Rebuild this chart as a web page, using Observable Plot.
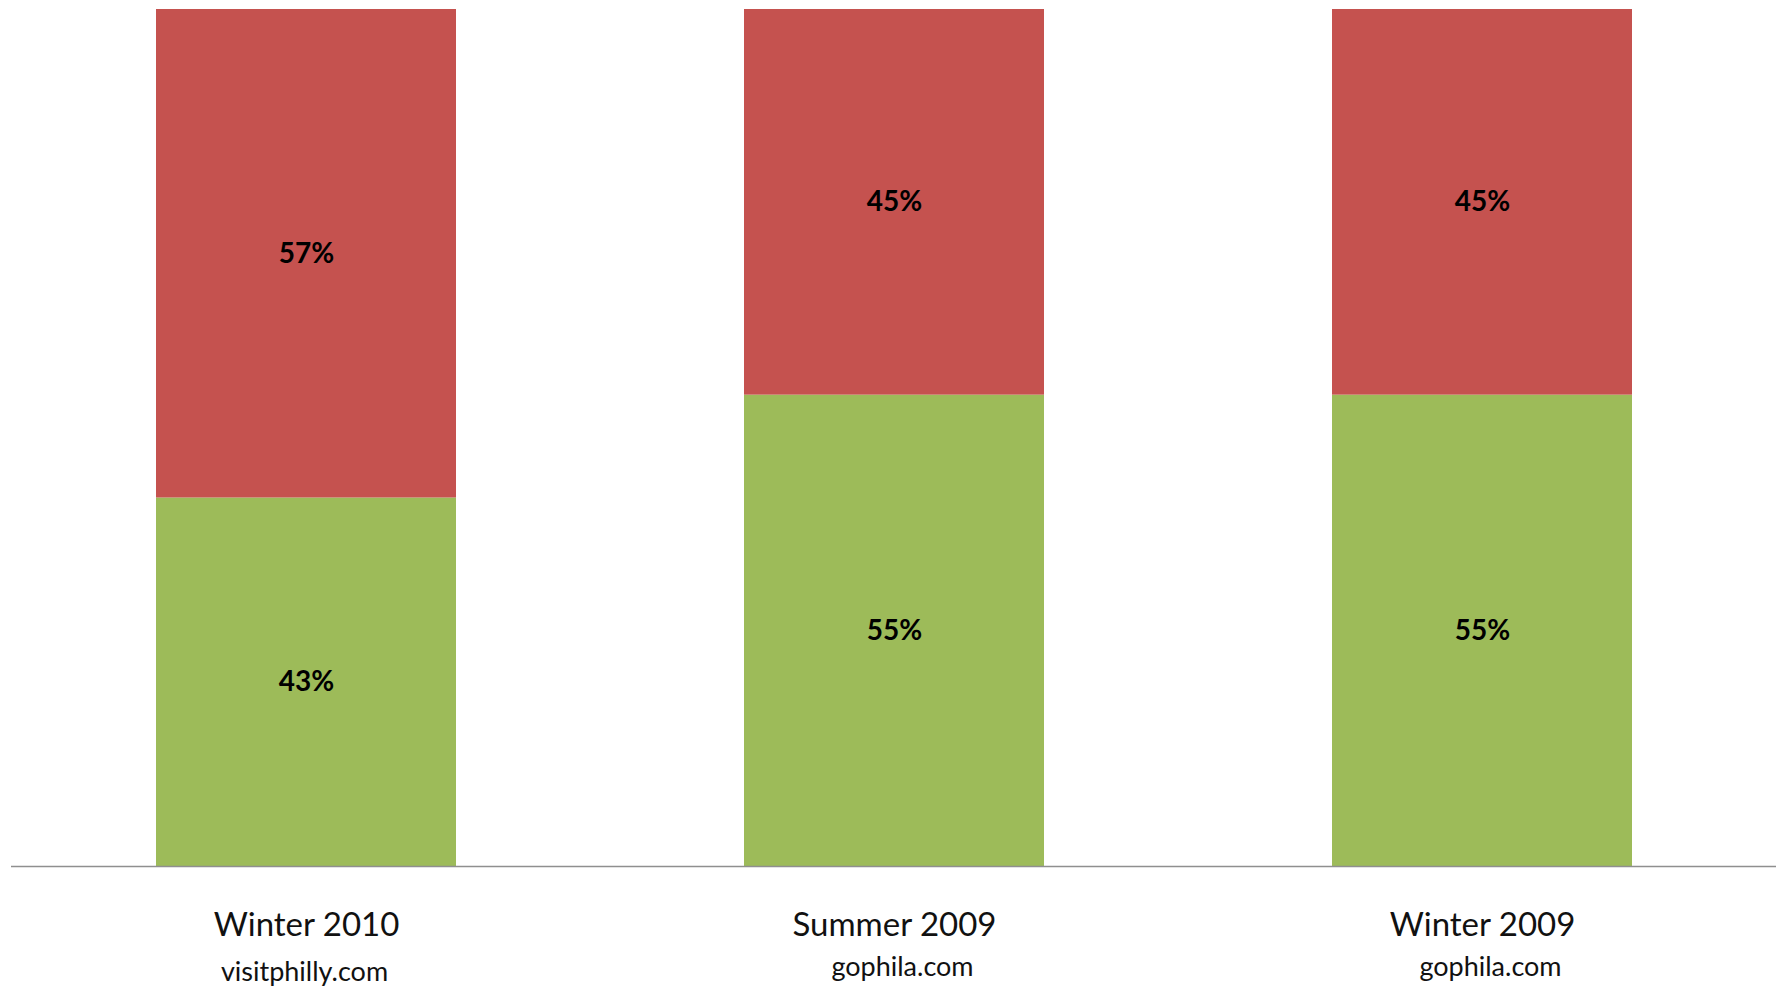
<!DOCTYPE html>
<html>
<head>
<meta charset="utf-8">
<script src="https://cdn.jsdelivr.net/npm/d3@7"></script>
<script src="https://cdn.jsdelivr.net/npm/@observablehq/plot@0.6"></script>
<style>
  html, body { margin: 0; padding: 0; background: #fff; }
  #chart svg { display: block; }
</style>
</head>
<body>
<div id="chart"></div>
<script>
const categories = ["Winter 2010", "Summer 2009", "Winter 2009"];
const sources = ["visitphilly.com", "gophila.com", "gophila.com"];
const series = ["bottom", "top"];
const bottomValues = [43, 55, 55];
const topValues = [57, 45, 45];
const seriesColors = ["#9DBB59", "#C5524F"];

const table = [];
categories.forEach((c, i) => {
  table.push({category: c, series: series[0], value: bottomValues[i]});
  table.push({category: c, series: series[1], value: topValues[i]});
});
const labels = categories.map((c, i) => ({category: c, source: sources[i]}));
const font = "Lato, 'Open Sans', sans-serif";

const chart = Plot.plot({
  width: 1782,
  height: 988,
  marginTop: 9,
  marginBottom: 122,
  marginLeft: 11,
  marginRight: 6,
  x: {domain: categories, paddingInner: 0.49, paddingOuter: 0.245, axis: null},
  y: {domain: [0, 100], axis: null},
  color: {domain: series, range: seriesColors},
  marks: [
    Plot.barY(table, Plot.stackY({x: "category", y: "value", fill: "series", order: series})),
    Plot.text(table, Plot.stackY({
      x: "category", y: "value", z: "series", order: series,
      text: d => d.value + "%",
      fontFamily: font, fontWeight: "bold", fontSize: 28, fill: "#000"
    })),
    Plot.ruleY([0], {stroke: "#8f8f8f", strokeWidth: 1.5}),
    Plot.text(labels, {
      x: "category", text: "category", frameAnchor: "bottom", dy: 69,
      fontFamily: font, fontSize: 33, fill: "#111"
    }),
    Plot.text(labels.filter(d => d.source === "visitphilly.com"), {
      x: "category", text: "source", frameAnchor: "bottom", dy: 114, dx: -2,
      fontFamily: font, fontSize: 27, fill: "#111"
    }),
    Plot.text(labels.filter(d => d.source !== "visitphilly.com"), {
      x: "category", text: "source", frameAnchor: "bottom", dy: 109, dx: 8,
      fontFamily: font, fontSize: 27, fill: "#111"
    })
  ]
});
document.getElementById("chart").appendChild(chart);
</script>
</body>
</html>
